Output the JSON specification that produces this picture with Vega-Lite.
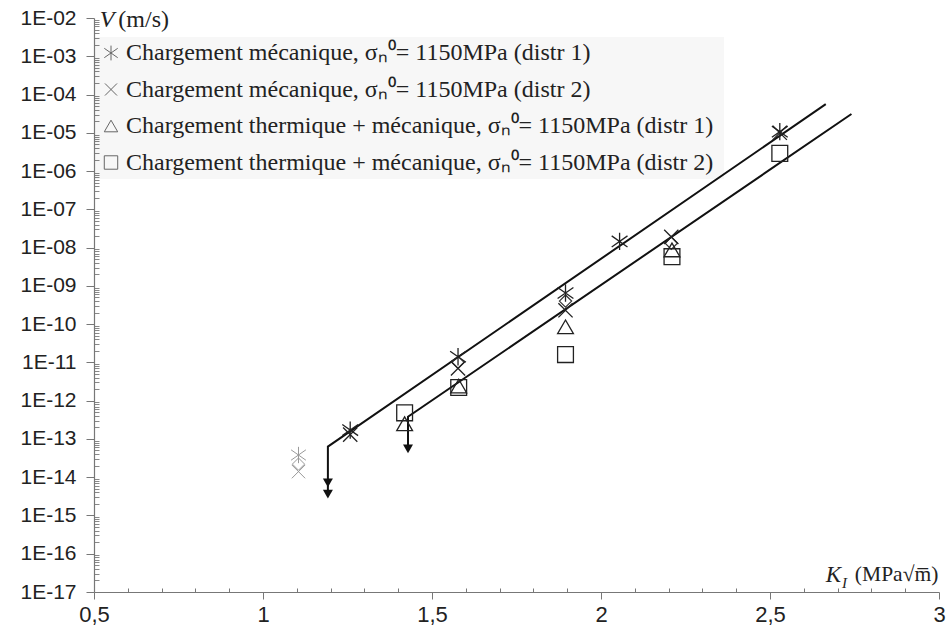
{
  "$schema": "https://vega.github.io/schema/vega-lite/v6.json",
  "width": 845,
  "height": 574,
  "autosize": "none",
  "padding": {"left": 94, "top": 18, "right": 9, "bottom": 47},
  "background": "white",
  "config": {"view": {"stroke": null}},
  "datasets": {
    "pts": [
      {"k": 1.258, "v": 1.7e-13, "s": "A"},
      {"k": 1.577, "v": 1.4e-11, "s": "A"},
      {"k": 1.895, "v": 6.5e-10, "s": "A"},
      {"k": 2.055, "v": 1.45e-8, "s": "A"},
      {"k": 2.529, "v": 1.07e-5, "s": "A"},
      {"k": 1.258, "v": 1.3e-13, "s": "B"},
      {"k": 1.577, "v": 7e-12, "s": "B"},
      {"k": 1.895, "v": 2.3e-10, "s": "B"},
      {"k": 2.208, "v": 1.9e-8, "s": "B"},
      {"k": 2.529, "v": 1.0e-5, "s": "B"},
      {"k": 1.419, "v": 2.5e-13, "s": "C"},
      {"k": 1.579, "v": 2.4e-12, "s": "C"},
      {"k": 1.895, "v": 8.5e-11, "s": "C"},
      {"k": 2.210, "v": 8.7e-9, "s": "C"},
      {"k": 1.419, "v": 4.8e-13, "s": "D"},
      {"k": 1.579, "v": 2.2e-12, "s": "D"},
      {"k": 1.895, "v": 1.6e-11, "s": "D"},
      {"k": 2.210, "v": 5.8e-9, "s": "D"},
      {"k": 2.529, "v": 2.9e-6, "s": "D"}
    ],
    "diam": [
      {"k": 1.577, "v": 1.0e-11},
      {"k": 1.895, "v": 4.0e-10},
      {"k": 2.208, "v": 1.3e-8}
    ],
    "grayA": [{"k": 1.105, "v": 3.8e-14}],
    "grayB": [{"k": 1.105, "v": 1.4e-14}],
    "grayd": [{"k": 1.105, "v": 2.2e-14}],
    "lines": [
      {"k": 1.192, "v": 3.5e-15, "seg": "L1", "o": 1},
      {"k": 1.192, "v": 6.3e-14, "seg": "L1", "o": 2},
      {"k": 2.665, "v": 5.6e-5, "seg": "L1", "o": 3},
      {"k": 1.429, "v": 5.0e-14, "seg": "L2", "o": 1},
      {"k": 1.429, "v": 3.8e-13, "seg": "L2", "o": 2},
      {"k": 2.741, "v": 3.1e-5, "seg": "L2", "o": 3}
    ],
    "arrows": [
      {"k": 1.192, "v": 7.1e-15},
      {"k": 1.192, "v": 3.6e-15},
      {"k": 1.429, "v": 5.5e-14}
    ],
    "axisy": [
      {"k": 0.5, "v": 1e-17}
    ]
  },
  "layer": [
    {
      "data": {"name": "axisy"},
      "mark": {"type": "point", "opacity": 0},
      "encoding": {
        "x": {"field": "k", "type": "quantitative", "scale": {"domain": [0.5, 3], "nice": false, "zero": false},
          "axis": {"orient": "bottom", "values": [0.6,0.7,0.8,0.9,1.1,1.2,1.3,1.4,1.6,1.7,1.8,1.9,2.1,2.2,2.3,2.4,2.6,2.7,2.8,2.9], "labels": false, "domain": false, "grid": false, "tickSize": -4, "tickColor": "#777", "tickWidth": 1, "title": null}},
        "y": {"field": "v", "type": "quantitative", "scale": {"type": "log", "domain": [1e-17, 1e-2], "nice": false},
          "axis": {"orient": "left", "values": [2e-17,3e-17,4e-17,5e-17,6e-17,7e-17,8e-17,9e-17,2e-16,3e-16,4e-16,5e-16,6e-16,7e-16,8e-16,9e-16,2e-15,3e-15,4e-15,5e-15,6e-15,7e-15,8e-15,9e-15,2e-14,3e-14,4e-14,5e-14,6e-14,7e-14,8e-14,9e-14,2e-13,3e-13,4e-13,5e-13,6e-13,7e-13,8e-13,9e-13,2e-12,3e-12,4e-12,5e-12,6e-12,7e-12,8e-12,9e-12,2e-11,3e-11,4e-11,5e-11,6e-11,7e-11,8e-11,9e-11,2e-10,3e-10,4e-10,5e-10,6e-10,7e-10,8e-10,9e-10,2e-9,3e-9,4e-9,5e-9,6e-9,7e-9,8e-9,9e-9,2e-8,3e-8,4e-8,5e-8,6e-8,7e-8,8e-8,9e-8,2e-7,3e-7,4e-7,5e-7,6e-7,7e-7,8e-7,9e-7,2e-6,3e-6,4e-6,5e-6,6e-6,7e-6,8e-6,9e-6,2e-5,3e-5,4e-5,5e-5,6e-5,7e-5,8e-5,9e-5,2e-4,3e-4,4e-4,5e-4,6e-4,7e-4,8e-4,9e-4,2e-3,3e-3,4e-3,5e-3,6e-3,7e-3,8e-3,9e-3], "labels": false, "domain": false, "grid": false, "tickSize": -5, "tickColor": "#888", "tickWidth": 1, "title": null}}
      }
    },
    {
      "data": {"name": "lines"},
      "mark": {"type": "line", "color": "#111", "strokeWidth": 2},
      "encoding": {
        "x": {"field": "k", "type": "quantitative",
          "axis": {"orient": "bottom", "values": [0.5, 1, 1.5, 2, 2.5, 3], "labelExpr": "replace(format(datum.value, '.1~f'), '.', ',')", "labelFont": "Liberation Sans", "labelFontSize": 22, "labelColor": "#222", "labelPadding": 5, "tickSize": 7, "tickColor": "#777", "domainColor": "#777", "domainWidth": 1.2, "grid": false, "title": null, "labelFlush": false}},
        "y": {"field": "v", "type": "quantitative",
          "axis": {"orient": "left", "values": [1e-17,1e-16,1e-15,1e-14,1e-13,1e-12,1e-11,1e-10,1e-9,1e-8,1e-7,1e-6,1e-5,1e-4,1e-3,1e-2], "labelExpr": "'1E-' + (round(-log(datum.value)/LN10) < 10 ? '0' : '') + round(-log(datum.value)/LN10)", "labelFont": "Liberation Sans", "labelFontSize": 21, "labelColor": "#222", "labelPadding": 10, "tickSize": 8, "tickColor": "#777", "domainColor": "#777", "domainWidth": 1.2, "grid": false, "title": null, "labelFlush": false}},
        "detail": {"field": "seg"},
        "order": {"field": "o"}
      }
    },
    {
      "data": {"name": "arrows"},
      "mark": {"type": "point", "shape": "triangle-down", "filled": true, "color": "#111", "size": 100, "opacity": 1},
      "encoding": {
        "x": {"field": "k", "type": "quantitative", "axis": null},
        "y": {"field": "v", "type": "quantitative", "axis": null}
      }
    },
    {
      "data": {"name": "grayd"},
      "mark": {"type": "point", "shape": "diamond", "filled": false, "color": "#999", "size": 150, "strokeWidth": 1, "opacity": 1},
      "encoding": {
        "x": {"field": "k", "type": "quantitative", "axis": null},
        "y": {"field": "v", "type": "quantitative", "axis": null}
      }
    },
    {
      "data": {"name": "grayA"},
      "mark": {"type": "point", "shape": "M-1,-0.7L1,0.7M-1,0.7L1,-0.7M0,-1.1L0,1.1", "filled": false, "color": "#999", "size": 220, "strokeWidth": 1, "opacity": 1},
      "encoding": {
        "x": {"field": "k", "type": "quantitative", "axis": null},
        "y": {"field": "v", "type": "quantitative", "axis": null}
      }
    },
    {
      "data": {"name": "grayB"},
      "mark": {"type": "point", "shape": "M-0.9,-0.9L0.9,0.9M-0.9,0.9L0.9,-0.9", "filled": false, "color": "#999", "size": 220, "strokeWidth": 1, "opacity": 1},
      "encoding": {
        "x": {"field": "k", "type": "quantitative", "axis": null},
        "y": {"field": "v", "type": "quantitative", "axis": null}
      }
    },
    {
      "data": {"name": "diam"},
      "mark": {"type": "point", "shape": "diamond", "filled": false, "color": "#333", "size": 150, "strokeWidth": 1.2, "opacity": 1},
      "encoding": {
        "x": {"field": "k", "type": "quantitative", "axis": null},
        "y": {"field": "v", "type": "quantitative", "axis": null}
      }
    },
    {
      "data": {"name": "pts"},
      "mark": {"type": "point", "filled": false, "color": "#222", "size": 250, "strokeWidth": 1.3, "opacity": 1},
      "encoding": {
        "x": {"field": "k", "type": "quantitative", "axis": null},
        "y": {"field": "v", "type": "quantitative", "axis": null},
        "shape": {"field": "s", "type": "nominal",
          "scale": {"domain": ["A", "B", "C", "D"], "range": ["M-1,-0.7L1,0.7M-1,0.7L1,-0.7M0,-1.1L0,1.1", "M-0.9,-0.9L0.9,0.9M-0.9,0.9L0.9,-0.9", "triangle-up", "square"]},
          "legend": {
            "orient": "none", "legendX": 1, "legendY": 19, "title": null,
            "labelExpr": "datum.value == 'A' ? 'Chargement mécanique, σₙ⁰= 1150MPa (distr 1)' : datum.value == 'B' ? 'Chargement mécanique, σₙ⁰= 1150MPa (distr 2)' : datum.value == 'C' ? 'Chargement thermique  + mécanique, σₙ⁰= 1150MPa (distr 1)' : 'Chargement thermique  + mécanique, σₙ⁰= 1150MPa (distr 2)'",
            "labelFont": "Liberation Serif", "labelFontSize": 24, "labelColor": "#222", "labelLimit": 900,
            "symbolSize": 180, "symbolStrokeColor": "#666", "symbolStrokeWidth": 1, "symbolFillColor": "transparent",
            "rowPadding": 12.5, "labelOffset": 3, "fillColor": "rgba(0,0,0,0.03)", "padding": 4, "symbolOffset": 0
          }}
      }
    },
    {
      "data": {"values": [{"k": 0.517, "v": 0.01, "t": "V"}]},
      "mark": {"type": "text", "align": "left", "baseline": "middle", "font": "Liberation Serif", "fontStyle": "italic", "fontSize": 24, "color": "#222", "dy": 2},
      "encoding": {
        "x": {"field": "k", "type": "quantitative", "axis": null},
        "y": {"field": "v", "type": "quantitative", "axis": null},
        "text": {"field": "t"}
      }
    },
    {
      "data": {"values": [{"k": 0.572, "v": 0.01, "t": "(m/s)"}]},
      "mark": {"type": "text", "align": "left", "baseline": "middle", "font": "Liberation Serif", "fontSize": 24, "color": "#222", "dy": 2},
      "encoding": {
        "x": {"field": "k", "type": "quantitative", "axis": null},
        "y": {"field": "v", "type": "quantitative", "axis": null},
        "text": {"field": "t"}
      }
    },
    {
      "data": {"values": [{"k": 2.665, "v": 2.8e-17, "t": "K"}]},
      "mark": {"type": "text", "align": "left", "baseline": "middle", "font": "Liberation Serif", "fontStyle": "italic", "fontSize": 23, "color": "#222"},
      "encoding": {
        "x": {"field": "k", "type": "quantitative", "axis": null},
        "y": {"field": "v", "type": "quantitative", "axis": null},
        "text": {"field": "t"}
      }
    },
    {
      "data": {"values": [{"k": 2.713, "v": 1.7e-17, "t": "I"}]},
      "mark": {"type": "text", "align": "left", "baseline": "middle", "font": "Liberation Serif", "fontStyle": "italic", "fontSize": 15, "color": "#222"},
      "encoding": {
        "x": {"field": "k", "type": "quantitative", "axis": null},
        "y": {"field": "v", "type": "quantitative", "axis": null},
        "text": {"field": "t"}
      }
    },
    {
      "data": {"values": [{"k": 2.998, "v": 2.8e-17, "t": "(MPa√m̅)"}]},
      "mark": {"type": "text", "align": "right", "baseline": "middle", "font": "Liberation Serif", "fontSize": 21.5, "color": "#222"},
      "encoding": {
        "x": {"field": "k", "type": "quantitative", "axis": null},
        "y": {"field": "v", "type": "quantitative", "axis": null},
        "text": {"field": "t"}
      }
    }
  ],
  "resolve": {"axis": {"x": "independent", "y": "independent"}}
}
